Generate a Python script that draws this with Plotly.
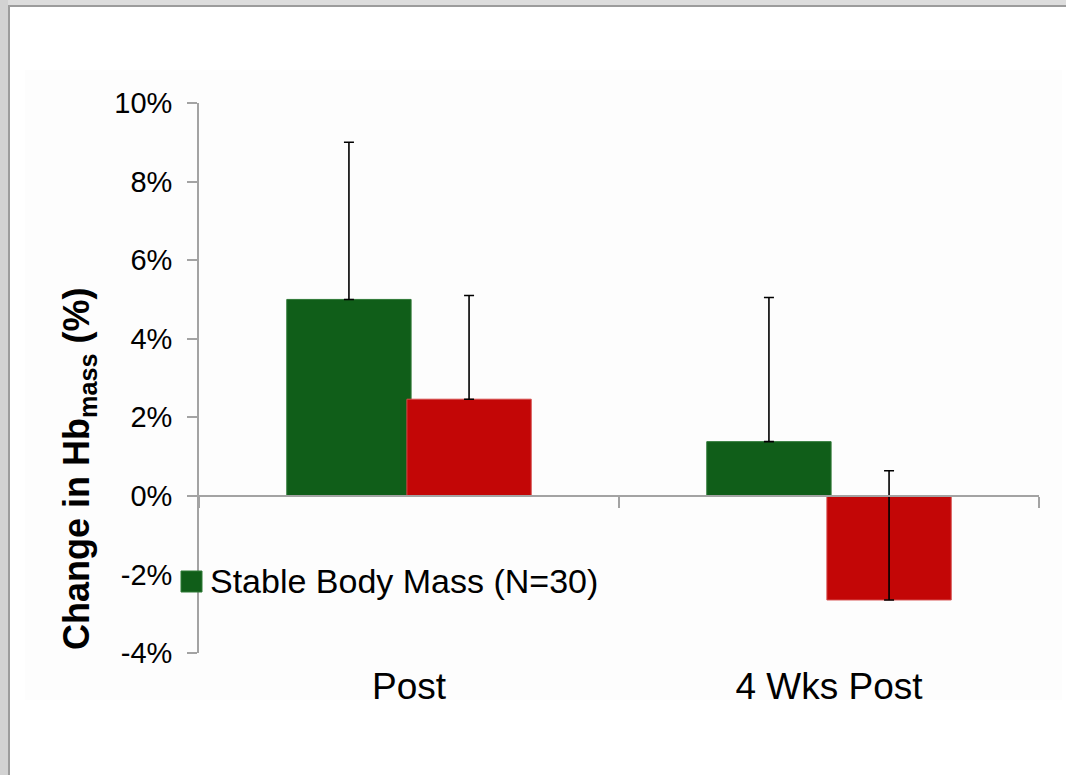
import plotly.graph_objects as go

# Change in haemoglobin mass after training, by body-mass group
categories = ["Post", "4 Wks Post"]
stable_mass = [5.0, 1.38]          # % change, stable body mass group
stable_err = [4.0, 3.67]           # upper error (%)
reduced_mass = [2.46, -2.65]       # % change, second group
reduced_err = [2.64, 3.29]         # upper error (%)
y_tick_values = [-4, -2, 0, 2, 4, 6, 8, 10]
y_tick_labels = ["-4%", "-2%", "0%", "2%", "4%", "6%", "8%", "10%"]
stable_name = "Stable Body Mass (N=30)"
reduced_name = "Reduced Body Mass"

W, H = 1066, 775
L, R, T, B = 199, 27, 103, 122
PW, PH = W - L - R, H - T - B

FONT = "Liberation Sans, Arial, sans-serif"
GREEN = "#105e19"
RED = "#c30606"
AXIS = "#a3a3a3"


def xp(px):
    return (px - L) / PW


def yp(py):
    return (H - B - py) / PH


fig = go.Figure()

fig.add_trace(go.Bar(
    x=categories, y=stable_mass, name=stable_name,
    width=0.296, offset=-0.291,
    marker=dict(color=GREEN, line=dict(color="#2f7a37", width=1)),
    error_y=dict(type="data", array=stable_err, arrayminus=[0, 0], symmetric=False,
                 color="black", thickness=1.6, width=5),
    showlegend=False,
))
fig.add_trace(go.Bar(
    x=categories, y=reduced_mass, name=reduced_name,
    width=0.296, offset=-0.005,
    marker=dict(color=RED, line=dict(color="#d54a4a", width=1)),
    error_y=dict(type="data", array=reduced_err, arrayminus=[0, 0], symmetric=False,
                 color="black", thickness=1.6, width=5),
    showlegend=False,
))
# carrier for the zero-line category axis
fig.add_trace(go.Scatter(
    x=categories, y=[0, 0], xaxis="x2", mode="markers",
    marker=dict(opacity=0), hoverinfo="skip", showlegend=False,
))

shapes = [
    # soft chart-area panel
    dict(type="rect", xref="paper", yref="paper", layer="below",
         x0=xp(25), x1=xp(1062), y0=yp(70), y1=yp(700),
         fillcolor="#fdfdfd", line=dict(width=0)),
    # window frame: top and left edges
    dict(type="rect", xref="paper", yref="paper", layer="above",
         x0=xp(0), x1=xp(W), y0=yp(0), y1=yp(5),
         fillcolor="#dddddd", line=dict(width=0)),
    dict(type="rect", xref="paper", yref="paper", layer="above",
         x0=xp(8), x1=xp(W), y0=yp(5), y1=yp(7),
         fillcolor="#9c9c9c", line=dict(width=0)),
    dict(type="rect", xref="paper", yref="paper", layer="above",
         x0=xp(0), x1=xp(8), y0=yp(0), y1=yp(H),
         fillcolor="#d2d2d2", line=dict(width=0)),
    dict(type="rect", xref="paper", yref="paper", layer="above",
         x0=xp(8), x1=xp(10), y0=yp(5), y1=yp(H),
         fillcolor="#9c9c9c", line=dict(width=0)),
    # legend swatch
    dict(type="rect", xref="paper", yref="paper", layer="above",
         x0=xp(181), x1=xp(202), y0=yp(592), y1=yp(571),
         fillcolor=GREEN, line=dict(color="#2f7a37", width=1)),
]

annotations = [
    dict(text=stable_name, xref="paper", yref="paper", x=xp(208), y=yp(581),
         xanchor="left", yanchor="middle", showarrow=False,
         font=dict(family=FONT, size=34, color="black")),
    dict(text="<b>Change in Hb<sub>mass</sub> (%)</b>", xref="paper", yref="paper",
         x=xp(79), y=yp(469), xanchor="center", yanchor="middle",
         textangle=-90, showarrow=False,
         font=dict(family=FONT, size=36, color="black")),
]

fig.update_layout(
    width=W, height=H,
    margin=dict(l=L, r=R, t=T, b=B),
    paper_bgcolor="white",
    plot_bgcolor="rgba(0,0,0,0)",
    barmode="overlay",
    font=dict(family=FONT, color="black"),
    xaxis=dict(
        type="category", range=[-0.5, 1.5],
        showline=False, ticks="", showgrid=False, zeroline=False,
        tickfont=dict(family=FONT, size=37, color="black"),
        ticklabelstandoff=8,
    ),
    xaxis2=dict(
        type="category", overlaying="x", matches="x",
        anchor="free", position=4 / 14,
        showline=True, linecolor=AXIS, linewidth=1.6,
        ticks="outside", tickson="boundaries", ticklen=11,
        tickcolor=AXIS, tickwidth=1.6,
        showticklabels=False, showgrid=False, zeroline=False,
    ),
    yaxis=dict(
        range=[-4, 10], tickvals=y_tick_values, ticktext=y_tick_labels,
        showline=True, linecolor=AXIS, linewidth=1.6,
        ticks="outside", ticklen=10, tickcolor=AXIS, tickwidth=1.6,
        showgrid=False, zeroline=False,
        tickfont=dict(family=FONT, size=29, color="black"),
        ticklabelstandoff=9,
    ),
    shapes=shapes,
    annotations=annotations,
)

fig.write_html("out.html")
